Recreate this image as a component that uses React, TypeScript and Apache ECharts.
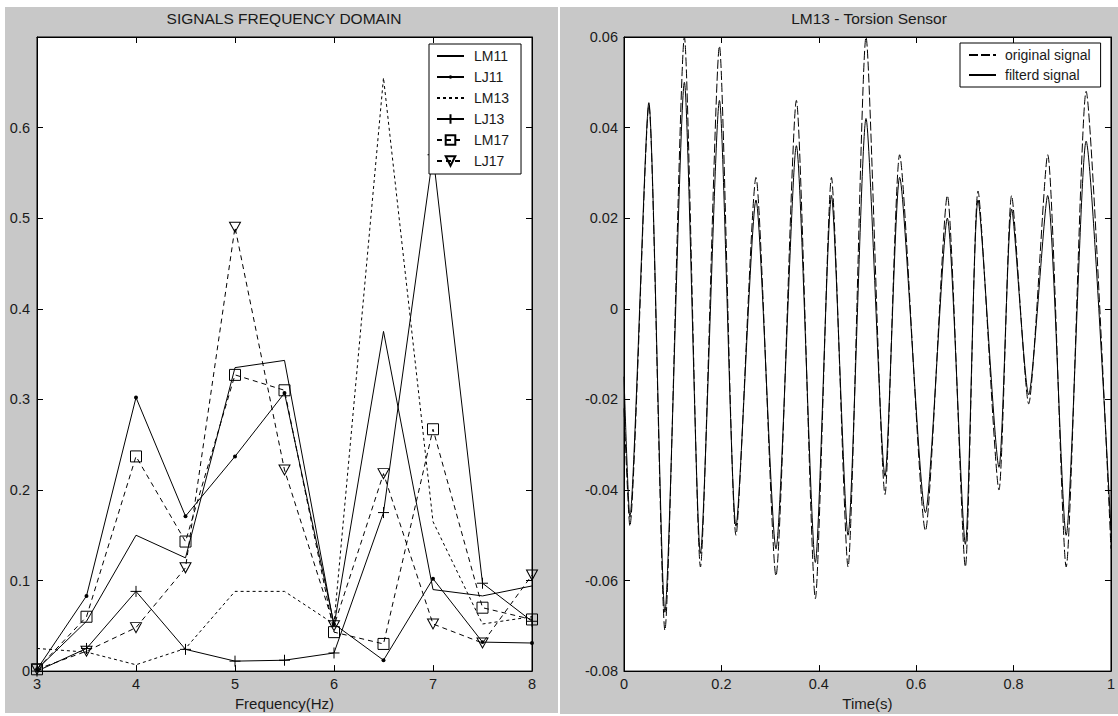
import React, { useEffect, useRef } from 'react';
import * as echarts from 'echarts';

// ---------- Left panel: signals frequency domain ----------
const FREQ = [3, 3.5, 4, 4.5, 5, 5.5, 6, 6.5, 7, 7.5, 8];
const LM11 = [0.002, 0.055, 0.150, 0.125, 0.335, 0.343, 0.050, 0.375, 0.090, 0.083, 0.094];
const LJ11 = [0.002, 0.083, 0.302, 0.171, 0.237, 0.307, 0.052, 0.012, 0.102, 0.032, 0.031];
const LM13 = [0.025, 0.021, 0.007, 0.025, 0.088, 0.088, 0.052, 0.655, 0.165, 0.052, 0.060];
const LJ13 = [0.000, 0.025, 0.088, 0.024, 0.011, 0.012, 0.020, 0.175, 0.570, 0.097, 0.055];
const LM17 = [0.002, 0.060, 0.237, 0.143, 0.327, 0.310, 0.043, 0.030, 0.267, 0.070, 0.057];
const LJ17 = [0.002, 0.022, 0.048, 0.114, 0.490, 0.222, 0.050, 0.218, 0.052, 0.031, 0.106];

// ---------- Right panel: LM13 torsion sensor ----------
const TIME = [
  0, 0.012, 0.051, 0.084, 0.124, 0.157, 0.196, 0.230, 0.271, 0.312,
  0.354, 0.393, 0.426, 0.460, 0.497, 0.536, 0.566, 0.619, 0.664, 0.701,
  0.727, 0.770, 0.796, 0.831, 0.870, 0.908, 0.949, 1.0,
];
const ORIGINAL = [
  -0.022, -0.048, 0.045, -0.071, 0.060, -0.057, 0.058, -0.050, 0.029, -0.059,
  0.046, -0.064, 0.029, -0.057, 0.060, -0.041, 0.034, -0.049, 0.025, -0.057,
  0.026, -0.040, 0.025, -0.021, 0.034, -0.057, 0.048, -0.053,
];
const FILTERED = [
  -0.015, -0.046, 0.0455, -0.067, 0.050, -0.054, 0.046, -0.048, 0.024, -0.053,
  0.036, -0.056, 0.025, -0.050, 0.042, -0.037, 0.029, -0.045, 0.020, -0.052,
  0.024, -0.035, 0.022, -0.019, 0.025, -0.050, 0.037, -0.049,
];

const FONT = '"Liberation Sans", Arial, sans-serif';
const TXT = '#1a1a1a';
const BLK = '#000';
const CLEAR = 'rgba(0,0,0,0)';

const pairs = (xs: number[], ys: number[]) => xs.map((x, i) => [x, ys[i]]);

const axisLine = { show: true, onZero: false, lineStyle: { color: BLK, width: 1 } };
const axisTick = { show: true, inside: true, length: 6, lineStyle: { color: BLK, width: 1 } };
const labelStyle = { color: TXT, fontSize: 14.5, fontFamily: FONT };
const nameStyle = { color: TXT, fontSize: 15, fontFamily: FONT };

const fmtLeftY = (v: number) => (v > 0.65 ? '' : String(Math.round(v * 10) / 10));
const fmtRightY = (v: number) => {
  const r = Math.round(v * 100) / 100;
  return r === 0 ? '0' : r.toFixed(2);
};
const fmtRightX = (v: number) => String(Math.round(v * 10) / 10);

// marker shapes (MATLAB style)
const DOT = 'path://M0,0M10,10M3.2,5A1.8,1.8,0,1,1,6.8,5A1.8,1.8,0,1,1,3.2,5Z';
const PLUS = 'path://M5,0L5,10M0,5L10,5';
const TRI_DOWN = 'path://M0,0L10,0L5,9Z';

const plainLine = (name: string, data: number[][], type: any, xi = 0, yi = 0, smooth: any = false) => ({
  name, type: 'line', xAxisIndex: xi, yAxisIndex: yi, data, smooth,
  symbol: 'circle', showSymbol: false, symbolSize: 0,
  lineStyle: { color: BLK, width: 1, type },
  itemStyle: { color: CLEAR, borderWidth: 0 },
  emphasis: { disabled: true },
});

export default function App() {
  const ref = useRef<HTMLDivElement>(null);

  useEffect(() => {
    if (!ref.current) return;
    const chart = echarts.init(ref.current, undefined, { renderer: 'svg' });

    const option: any = {
      animation: false,
      textStyle: { fontFamily: FONT },
      graphic: [
        {
          type: 'text', x: 284, y: 18,
          style: { text: 'SIGNALS FREQUENCY DOMAIN', fill: TXT, fontSize: 15.5, fontFamily: FONT, align: 'center', verticalAlign: 'middle' },
        },
        {
          type: 'text', x: 869, y: 18,
          style: { text: 'LM13 - Torsion Sensor', fill: TXT, fontSize: 15.5, fontFamily: FONT, align: 'center', verticalAlign: 'middle' },
        },
      ],
      grid: [
        { left: 37, top: 37, width: 495, height: 635, show: true, backgroundColor: '#fff', borderColor: BLK, borderWidth: 1 },
        { left: 624, top: 37, width: 491, height: 635, show: true, backgroundColor: '#fff', borderColor: BLK, borderWidth: 1 },
      ],
      xAxis: [
        {
          gridIndex: 0, type: 'value', min: 3, max: 8, interval: 1, position: 'bottom',
          axisLine, axisTick, splitLine: { show: false },
          axisLabel: { ...labelStyle, margin: 5 },
          name: 'Frequency(Hz)', nameLocation: 'middle', nameGap: 24,
          nameTextStyle: { ...nameStyle },
        },
        {
          gridIndex: 0, type: 'value', min: 3, max: 8, interval: 1, position: 'top',
          axisLine, axisTick, splitLine: { show: false }, axisLabel: { show: false },
        },
        {
          gridIndex: 1, type: 'value', min: 0, max: 1, interval: 0.2, position: 'bottom',
          axisLine, axisTick, splitLine: { show: false },
          axisLabel: { ...labelStyle, margin: 5, formatter: fmtRightX },
          name: 'Time(s)', nameLocation: 'middle', nameGap: 24,
          nameTextStyle: { ...nameStyle },
        },
        {
          gridIndex: 1, type: 'value', min: 0, max: 1, interval: 0.2, position: 'top',
          axisLine, axisTick, splitLine: { show: false }, axisLabel: { show: false },
        },
      ],
      yAxis: [
        {
          gridIndex: 0, type: 'value', min: 0, max: 0.7, interval: 0.1, position: 'left',
          axisLine, axisTick, splitLine: { show: false },
          axisLabel: { ...labelStyle, margin: 7, formatter: fmtLeftY },
        },
        {
          gridIndex: 0, type: 'value', min: 0, max: 0.7, interval: 0.1, position: 'right',
          axisLine, axisTick, splitLine: { show: false }, axisLabel: { show: false },
        },
        {
          gridIndex: 1, type: 'value', min: -0.08, max: 0.06, interval: 0.02, position: 'left',
          axisLine, axisTick, splitLine: { show: false },
          axisLabel: { ...labelStyle, margin: 6, formatter: fmtRightY },
        },
        {
          gridIndex: 1, type: 'value', min: -0.08, max: 0.06, interval: 0.02, position: 'right',
          axisLine, axisTick, splitLine: { show: false }, axisLabel: { show: false },
        },
      ],
      legend: [
        {
          orient: 'vertical', left: 429, top: 44, width: 94,
          backgroundColor: '#fff', borderColor: BLK, borderWidth: 1, borderRadius: 0,
          padding: [5, 12, 6, 7], itemWidth: 27, itemHeight: 12, itemGap: 7,
          textStyle: { color: TXT, fontSize: 14, fontFamily: FONT, padding: [0, 0, 0, 5] },
          selectedMode: false,
          data: ['LM11', 'LJ11', 'LM13', 'LJ13', 'LM17', 'LJ17'],
        },
        {
          orient: 'vertical', left: 960, top: 43,
          backgroundColor: '#fff', borderColor: BLK, borderWidth: 1, borderRadius: 0,
          padding: [5, 10, 5, 8], itemWidth: 27, itemHeight: 12, itemGap: 6,
          textStyle: { color: TXT, fontSize: 14, fontFamily: FONT, padding: [0, 0, 0, 4] },
          selectedMode: false,
          data: ['original signal', 'filterd signal'],
        },
      ],
      series: [
        plainLine('LM11', pairs(FREQ, LM11), 'solid'),
        {
          name: 'LJ11', type: 'line', xAxisIndex: 0, yAxisIndex: 0, data: pairs(FREQ, LJ11),
          symbol: DOT, symbolSize: 11, lineStyle: { color: BLK, width: 1, type: 'solid' },
          itemStyle: { color: BLK, borderWidth: 0 }, emphasis: { disabled: true },
        },
        plainLine('LM13', pairs(FREQ, LM13), [3, 3]),
        {
          name: 'LJ13', type: 'line', xAxisIndex: 0, yAxisIndex: 0, data: pairs(FREQ, LJ13),
          symbol: PLUS, symbolSize: 11,
          lineStyle: { color: BLK, width: 1, type: 'solid' },
          itemStyle: { color: CLEAR, borderColor: BLK, borderWidth: 1 }, emphasis: { disabled: true },
        },
        {
          name: 'LM17', type: 'line', xAxisIndex: 0, yAxisIndex: 0, data: pairs(FREQ, LM17),
          symbol: 'rect', symbolSize: 11,
          lineStyle: { color: BLK, width: 1, type: [5, 4] },
          itemStyle: { color: CLEAR, borderColor: BLK, borderWidth: 1 }, emphasis: { disabled: true },
        },
        {
          name: 'LJ17', type: 'line', xAxisIndex: 0, yAxisIndex: 0, data: pairs(FREQ, LJ17),
          symbol: TRI_DOWN, symbolSize: [11, 10],
          lineStyle: { color: BLK, width: 1, type: [5, 4] },
          itemStyle: { color: CLEAR, borderColor: BLK, borderWidth: 1 }, emphasis: { disabled: true },
        },
        plainLine('original signal', pairs(TIME, ORIGINAL), [9, 3], 2, 2, 0.22),
        plainLine('filterd signal', pairs(TIME, FILTERED), 'solid', 2, 2, 0.22),
      ],
    };

    chart.setOption(option);
    return () => chart.dispose();
  }, []);

  return (
    <div style={{ position: 'absolute', left: 0, top: 0, width: 1118, height: 716, background: '#fff', overflow: 'hidden' }}>
      <div style={{ position: 'absolute', left: 5, top: 7, width: 553, height: 706, background: '#c8c8c8' }} />
      <div style={{ position: 'absolute', left: 560, top: 7, width: 558, height: 707, background: '#c8c8c8' }} />
      <div ref={ref} style={{ position: 'absolute', left: 0, top: 0, width: 1118, height: 716 }} />
    </div>
  );
}
